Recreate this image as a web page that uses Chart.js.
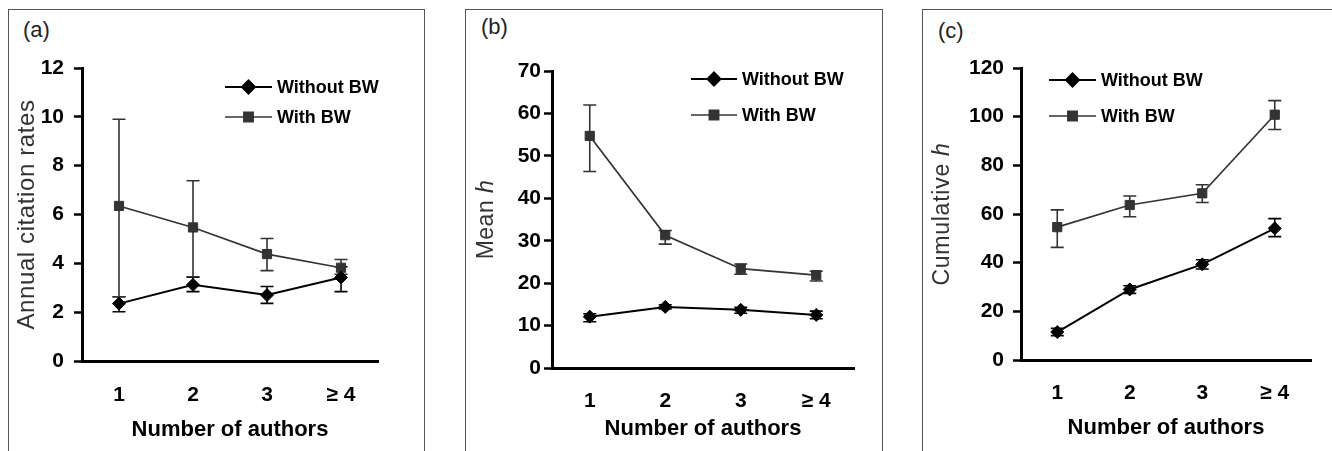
<!DOCTYPE html>
<html>
<head>
<meta charset="utf-8">
<script src="https://cdn.jsdelivr.net/npm/chart.js@4.4.1/dist/chart.umd.min.js"></script>
<style>
  html, body { margin: 0; padding: 0; background: #fff; width: 1332px; height: 451px; overflow: hidden; }
  canvas { position: absolute; }
  .frame { position: absolute; top: 8.5px; height: 460px; border: 1.5px solid #555; border-bottom: none; box-sizing: border-box; }
  .tag { position: absolute; font: 22px "Liberation Sans", Arial, sans-serif; color: #222; line-height: 26px; }
</style>
</head>
<body>
<div class="frame" style="left:7.5px; width:417px"></div>
<div class="frame" style="left:464.5px; width:418px"></div>
<div class="frame" style="left:921.5px; width:440px"></div>
<div class="tag" style="left:23px; top:17px">(a)</div>
<div class="tag" style="left:481px; top:14px">(b)</div>
<div class="tag" style="left:938px; top:18px">(c)</div>
<canvas id="rates" width="415" height="442" style="left:8px; top:9px"></canvas>
<canvas id="mean" width="416" height="442" style="left:465px; top:9px"></canvas>
<canvas id="cumulative" width="410" height="442" style="left:922px; top:9px"></canvas>
<script>
const categories = ['1', '2', '3', '≥ 4'];
const seriesNames = ['Without BW', 'With BW'];

// (a) annual citation rates
const rateTicks = [0, 2, 4, 6, 8, 10, 12];
const rateWithout = [2.35, 3.12, 2.70, 3.42];
const rateWithoutLow = [2.02, 2.84, 2.36, 2.84];
const rateWithoutHigh = [2.63, 3.43, 3.05, 3.86];
const rateWith = [6.35, 5.47, 4.38, 3.82];
const rateWithLow = [2.63, 3.45, 3.70, 3.55];
const rateWithHigh = [9.90, 7.38, 5.02, 4.16];

// (b) mean h
const meanTicks = [0, 10, 20, 30, 40, 50, 60, 70];
const meanWithout = [12.1, 14.4, 13.7, 12.5];
const meanWithoutLow = [10.9, 13.9, 12.9, 11.6];
const meanWithoutHigh = [12.8, 14.9, 14.3, 13.4];
const meanWith = [54.7, 31.3, 23.4, 21.9];
const meanWithLow = [46.3, 29.2, 22.1, 20.5];
const meanWithHigh = [62.0, 32.4, 24.5, 22.8];

// (c) cumulative h
const cumTicks = [0, 20, 40, 60, 80, 100, 120];
const cumWithout = [11.5, 29.0, 39.3, 54.1];
const cumWithoutLow = [10.0, 27.4, 37.4, 50.7];
const cumWithoutHigh = [13.0, 30.5, 41.2, 58.1];
const cumWith = [54.6, 63.7, 68.5, 100.8];
const cumWithLow = [46.3, 58.9, 64.7, 94.7];
const cumWithHigh = [61.7, 67.4, 72.0, 106.6];

const FONT = '"Liberation Sans", Arial, Helvetica, sans-serif';

// vertical error bars with caps, drawn under the markers
const errorBars = {
	id: 'errorBars',
	beforeDatasetsDraw(chart) {
		const ctx = chart.ctx;
		const yScale = chart.scales.y;
		chart.data.datasets.forEach((ds, i) => {
			if (!ds.errLow) return;
			const meta = chart.getDatasetMeta(i);
			ctx.save();
			ctx.strokeStyle = ds.borderColor;
			ctx.lineWidth = 1.6;
			meta.data.forEach((pt, j) => {
				const hi = yScale.getPixelForValue(ds.errHigh[j]);
				const lo = yScale.getPixelForValue(ds.errLow[j]);
				const w = 6.5;
				ctx.beginPath();
				ctx.moveTo(pt.x, hi); ctx.lineTo(pt.x, lo);
				ctx.moveTo(pt.x - w, hi); ctx.lineTo(pt.x + w, hi);
				ctx.moveTo(pt.x - w, lo); ctx.lineTo(pt.x + w, lo);
				ctx.stroke();
			});
			ctx.restore();
		});
	}
};

// legend drawn inside the plot: line sample with marker, then bold label
const innerLegend = {
	id: 'innerLegend',
	afterDraw(chart, args, opts) {
		const ctx = chart.ctx;
		chart.data.datasets.forEach((ds, i) => {
			const y = opts.ys[i];
			ctx.save();
			ctx.strokeStyle = ds.borderColor;
			ctx.lineWidth = ds.borderWidth;
			ctx.beginPath();
			ctx.moveTo(opts.x0, y);
			ctx.lineTo(opts.x1, y);
			ctx.stroke();
			ctx.fillStyle = ds.pointBackgroundColor;
			ctx.strokeStyle = ds.pointBorderColor;
			Chart.helpers.drawPoint(ctx, {
				pointStyle: ds.pointStyle, radius: ds.pointRadius, rotation: 0, borderWidth: ds.pointBorderWidth
			}, (opts.x0 + opts.x1) / 2, y);
			ctx.fillStyle = '#000';
			ctx.font = 'bold 18px ' + FONT;
			ctx.textBaseline = 'middle';
			ctx.fillText(ds.label, opts.textX, y + 1);
			ctx.restore();
		});
	}
};

// y axis title that can mix upright and italic pieces
const yTitle = {
	id: 'yTitle',
	afterDraw(chart, args, opts) {
		const ctx = chart.ctx;
		const area = chart.chartArea;
		const fontOf = p => (p.italic ? 'italic ' : '') + opts.size + 'px ' + FONT;
		ctx.save();
		ctx.translate(opts.x, (area.top + area.bottom) / 2);
		ctx.rotate(-Math.PI / 2);
		ctx.fillStyle = '#333';
		ctx.textBaseline = 'middle';
		ctx.letterSpacing = opts.spacing + 'px';
		let total = 0;
		opts.parts.forEach(p => { ctx.font = fontOf(p); total += ctx.measureText(p.text).width; });
		let x = -total / 2;
		opts.parts.forEach(p => {
			ctx.font = fontOf(p);
			ctx.fillText(p.text, x, 0);
			x += ctx.measureText(p.text).width;
		});
		ctx.restore();
	}
};

function makeChart(id, cfg) {
	const ticks = cfg.ticks;
	return new Chart(document.getElementById(id), {
		type: 'line',
		data: {
			labels: categories,
			datasets: [{
				label: seriesNames[0],
				data: cfg.without,
				errLow: cfg.withoutLow,
				errHigh: cfg.withoutHigh,
				borderColor: '#000',
				borderWidth: 2,
				pointStyle: 'rectRot',
				pointRadius: 6.5,
				pointBackgroundColor: '#000',
				pointBorderColor: '#000',
				pointBorderWidth: 1,
				tension: 0,
			}, {
				label: seriesNames[1],
				data: cfg.with,
				errLow: cfg.withLow,
				errHigh: cfg.withHigh,
				borderColor: '#333',
				borderWidth: 1.7,
				pointStyle: 'rect',
				pointRadius: 6.5,
				pointBackgroundColor: '#333',
				pointBorderColor: '#333',
				pointBorderWidth: 1,
				tension: 0,
			}]
		},
		options: {
			responsive: false,
			animation: false,
			layout: {
				padding: { left: 0, top: cfg.top, right: cfg.right, bottom: 0 }
			},
			plugins: {
				legend: { display: false },
				tooltip: { enabled: false },
				innerLegend: cfg.legend,
				yTitle: cfg.yTitle,
			},
			scales: {
				x: {
					offset: true,
					grid: { display: false, drawTicks: false },
					border: { display: true, color: '#000', width: 3 },
					ticks: {
						color: '#000',
						padding: cfg.xPad,
						font: { family: FONT, size: 21, weight: 'bold' }
					},
					title: {
						display: true,
						text: 'Number of authors',
						color: '#000',
						padding: { top: 0, bottom: cfg.titlePad },
						font: { family: FONT, size: 22, weight: 'bold' }
					},
					afterFit: s => { s.height = cfg.xHeight; }
				},
				y: {
					min: ticks[0],
					max: ticks[ticks.length - 1],
					grid: { drawOnChartArea: false, drawTicks: true, tickLength: 8, tickWidth: 2.5, tickColor: '#000' },
					border: { display: true, color: '#000', width: 3 },
					ticks: {
						stepSize: ticks[1] - ticks[0],
						color: '#000',
						padding: cfg.yPad,
						font: { family: FONT, size: 21, weight: 'bold' }
					},
					afterFit: s => { s.width = cfg.yWidth; }
				}
			}
		},
		plugins: [errorBars, innerLegend, yTitle]
	});
}

makeChart('rates', {
	ticks: rateTicks,
	without: rateWithout, withoutLow: rateWithoutLow, withoutHigh: rateWithoutHigh,
	with: rateWith, withLow: rateWithLow, withHigh: rateWithHigh,
	top: 59, right: 45, yWidth: 74, xHeight: 90, xPad: 22, yPad: 10, titlePad: 7.8,
	legend: { x0: 217, x1: 264, textX: 269, ys: [78, 108] },
	yTitle: { x: 19, size: 24, spacing: 0.6, parts: [{ text: 'Annual citation rates' }] }
});

makeChart('mean', {
	ticks: meanTicks,
	without: meanWithout, withoutLow: meanWithoutLow, withoutHigh: meanWithoutHigh,
	with: meanWith, withLow: meanWithLow, withHigh: meanWithHigh,
	top: 62, right: 27, yWidth: 87, xHeight: 83, xPad: 21, yPad: 3, titlePad: 8.8,
	legend: { x0: 226, x1: 272, textX: 277, ys: [70, 106] },
	yTitle: { x: 22, size: 23, spacing: 0.5, parts: [{ text: 'Mean ' }, { text: 'h', italic: true }] }
});

makeChart('cumulative', {
	ticks: cumTicks,
	without: cumWithout, withoutLow: cumWithoutLow, withoutHigh: cumWithoutHigh,
	with: cumWith, withLow: cumWithLow, withHigh: cumWithHigh,
	top: 59, right: 21, yWidth: 99, xHeight: 91, xPad: 21, yPad: 9, titlePad: 9.8,
	legend: { x0: 127, x1: 174, textX: 179, ys: [71, 107] },
	yTitle: { x: 21, size: 23, spacing: 0.75, parts: [{ text: 'Cumulative ' }, { text: 'h', italic: true }] }
});
</script>
</body>
</html>
